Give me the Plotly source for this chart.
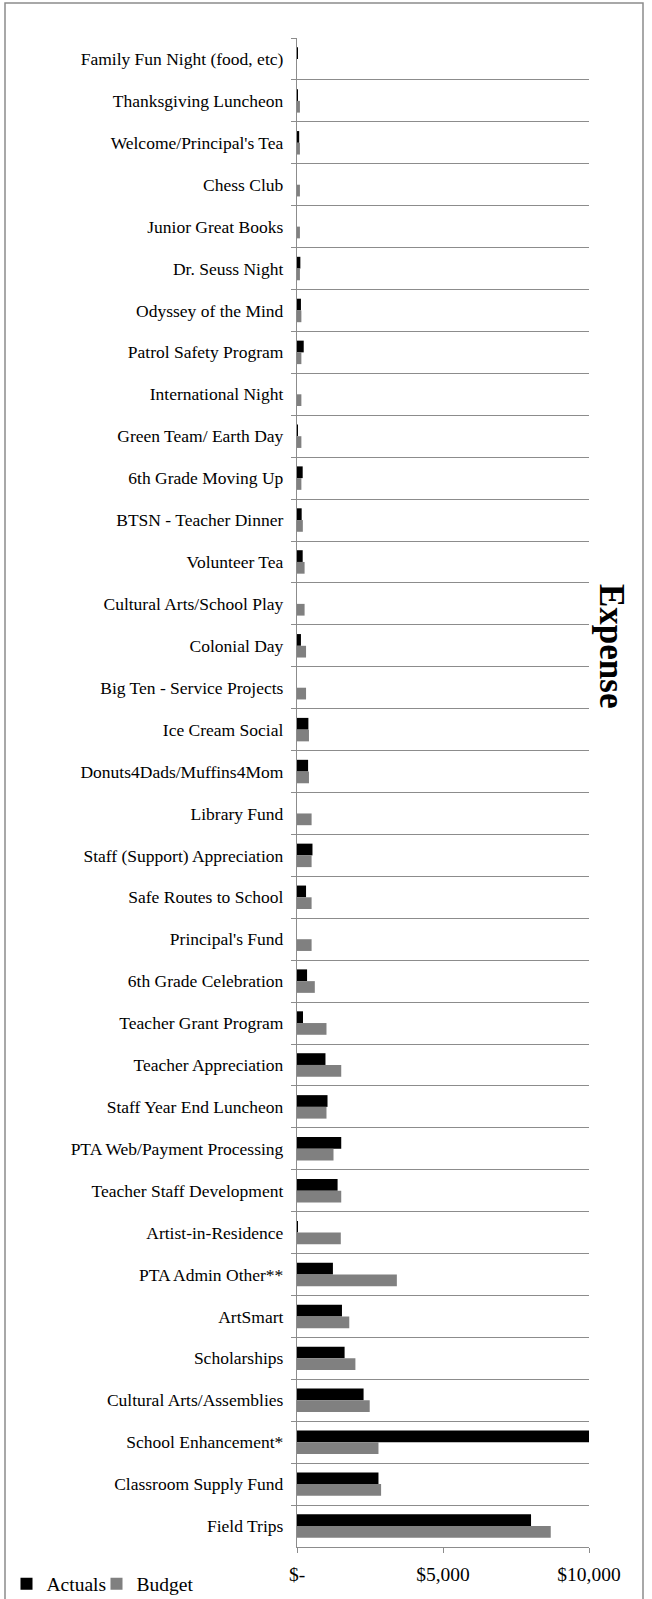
import plotly.graph_objects as go

categories = [
    "Family Fun Night (food, etc)", "Thanksgiving Luncheon", "Welcome/Principal's Tea",
    "Chess Club", "Junior Great Books", "Dr. Seuss Night", "Odyssey of the Mind",
    "Patrol Safety Program", "International Night", "Green Team/ Earth Day",
    "6th Grade Moving Up", "BTSN - Teacher Dinner", "Volunteer Tea",
    "Cultural Arts/School Play", "Colonial Day", "Big Ten - Service Projects",
    "Ice Cream Social", "Donuts4Dads/Muffins4Mom", "Library Fund",
    "Staff (Support) Appreciation", "Safe Routes to School", "Principal's Fund",
    "6th Grade Celebration", "Teacher Grant Program", "Teacher Appreciation",
    "Staff Year End Luncheon", "PTA Web/Payment Processing", "Teacher Staff Development",
    "Artist-in-Residence", "PTA Admin Other**", "ArtSmart", "Scholarships",
    "Cultural Arts/Assemblies", "School Enhancement*", "Classroom Supply Fund", "Field Trips",
]

actuals = [15, 30, 75, 0, 0, 115, 135, 230, 0, 20, 195, 160, 195, 0, 135, 0,
           390, 380, 0, 530, 310, 0, 345, 205, 975, 1045, 1515, 1390, 10, 1230,
           1540, 1630, 2280, 10080, 2790, 8015]

budget = [0, 100, 100, 100, 100, 100, 150, 150, 150, 150, 150, 200, 260, 260, 310, 310,
          410, 410, 500, 500, 500, 500, 610, 1010, 1515, 1010, 1250, 1515, 1500, 3420,
          1790, 2000, 2490, 2790, 2880, 8690]

x_tickvals = [0, 5000, 10000]
x_ticktext = ["$-", "$5,000", "$10,000"]

W, H = 652, 1599
L, R, T, B = 297, 589, 38, 1547
pw, ph = R - L, B - T

def px_x(p):
    return (p - L) / pw

def px_y(p):
    return (B - p) / ph

FONT = "Liberation Serif, Times New Roman, serif"
GRID = "#8c8c8c"

fig = go.Figure()
fig.add_trace(go.Bar(y=categories, x=actuals, name="Actuals", orientation="h",
                     marker=dict(color="#000000", line=dict(width=0)), legend="legend"))
fig.add_trace(go.Bar(y=categories, x=budget, name="Budget", orientation="h",
                     marker=dict(color="#808080", line=dict(width=0)), legend="legend2"))

legend_common = dict(orientation="h", xref="container", yref="container",
                     y=1 - 1584 / H, xanchor="left", yanchor="middle",
                     font=dict(size=19.5, family=FONT), itemwidth=30,
                     bgcolor="rgba(0,0,0,0)")

fig.update_layout(
    width=W, height=H,
    margin=dict(l=L, r=W - R, t=T, b=H - B, pad=0, autoexpand=False),
    paper_bgcolor="white", plot_bgcolor="white",
    barmode="group", bargap=0.44, bargroupgap=0,
    font=dict(family=FONT, color="black"),
    showlegend=True,
    legend=dict(x=6.5 / W, **legend_common),
    legend2=dict(x=96.5 / W, **legend_common),
    xaxis=dict(range=[0, 10000], tickvals=x_tickvals, ticktext=x_ticktext,
               showgrid=False, zeroline=False, showline=True, linecolor=GRID, linewidth=1.3,
               ticks="outside", ticklen=5, tickcolor=GRID, tickwidth=1.3,
               ticklabelstandoff=4,
               tickfont=dict(size=19.5, family=FONT, color="black")),
    yaxis=dict(type="category", autorange="reversed", tickson="boundaries",
               showgrid=True, gridcolor=GRID, gridwidth=1.3,
               showline=True, linecolor=GRID, linewidth=1.3,
               ticks="outside", ticklen=5, tickcolor=GRID, tickwidth=1.3,
               ticklabelstandoff=9,
               tickfont=dict(size=17.5, family=FONT, color="black")),
    annotations=[dict(text="<b>Expense</b>", xref="paper", yref="paper",
                      x=px_x(612), y=px_y(646), showarrow=False, textangle=90,
                      xanchor="center", yanchor="middle",
                      font=dict(size=35, family=FONT, color="black"))],
    shapes=[dict(type="rect", xref="paper", yref="paper",
                 x0=px_x(5), x1=px_x(643), y0=px_y(1610), y1=px_y(3),
                 line=dict(color="#8c8c8c", width=1.5), layer="below")],
)

fig.write_html("out.html", config={"displayModeBar": False},
               post_script="document.body.style.margin='0';")
